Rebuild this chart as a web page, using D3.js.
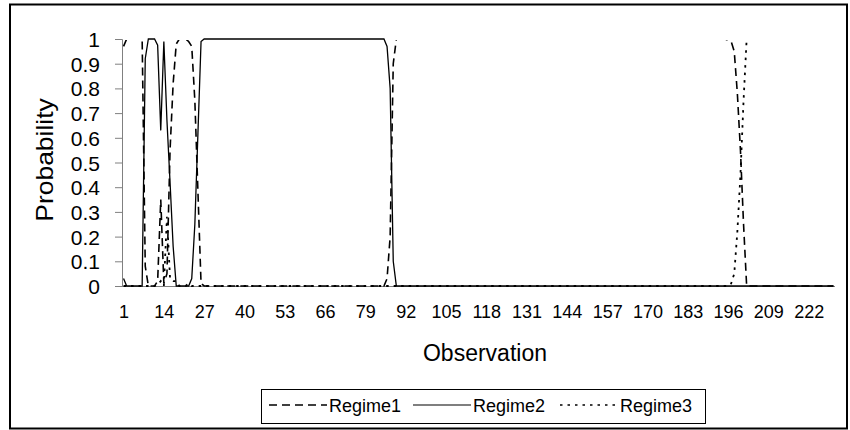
<!DOCTYPE html>
<html>
<head>
<meta charset="utf-8">
<script src="https://cdn.jsdelivr.net/npm/d3@7"></script>
<style>
  body { margin: 0; background: #fff; }
  svg text { font-family: Arial, "Liberation Sans", sans-serif; fill: #000; }
</style>
</head>
<body>
<div id="chart"></div>
<script>
// observations 1..230
var observations = d3.range(1, 231);

var seriesNames = ["Regime1", "Regime2", "Regime3"];

// smoothed probabilities (10 values per row)
var regime1 = [
  0.97, 1, 1, 1, 1, 1, 1, 0.08, 0, 0,
  0, 0.02, 0.35, 0.01, 0.05, 0.55, 0.82, 0.98, 1, 1,
  1, 0.99, 0.97, 0.75, 0.38, 0.01, 0, 0, 0, 0,
  0, 0, 0, 0, 0, 0, 0, 0, 0, 0,
  0, 0, 0, 0, 0, 0, 0, 0, 0, 0,
  0, 0, 0, 0, 0, 0, 0, 0, 0, 0,
  0, 0, 0, 0, 0, 0, 0, 0, 0, 0,
  0, 0, 0, 0, 0, 0, 0, 0, 0, 0,
  0, 0, 0, 0, 0, 0.03, 0.2, 0.9, 1, 1,
  1, 1, 1, 1, 1, 1, 1, 1, 1, 1,
  1, 1, 1, 1, 1, 1, 1, 1, 1, 1,
  1, 1, 1, 1, 1, 1, 1, 1, 1, 1,
  1, 1, 1, 1, 1, 1, 1, 1, 1, 1,
  1, 1, 1, 1, 1, 1, 1, 1, 1, 1,
  1, 1, 1, 1, 1, 1, 1, 1, 1, 1,
  1, 1, 1, 1, 1, 1, 1, 1, 1, 1,
  1, 1, 1, 1, 1, 1, 1, 1, 1, 1,
  1, 1, 1, 1, 1, 1, 1, 1, 1, 1,
  1, 1, 1, 1, 1, 1, 1, 1, 1, 1,
  1, 1, 1, 1, 1, 0.995, 0.99, 0.95, 0.78, 0.55,
  0.25, 0, 0, 0, 0, 0, 0, 0, 0, 0,
  0, 0, 0, 0, 0, 0, 0, 0, 0, 0,
  0, 0, 0, 0, 0, 0, 0, 0, 0, 0
];

var regime2 = [
  0.03, 0, 0, 0, 0, 0, 0, 0.92, 1, 1,
  1, 0.975, 0.63, 0.99, 0.67, 0.42, 0.16, 0, 0, 0,
  0, 0, 0.03, 0.25, 0.62, 0.99, 1, 1, 1, 1,
  1, 1, 1, 1, 1, 1, 1, 1, 1, 1,
  1, 1, 1, 1, 1, 1, 1, 1, 1, 1,
  1, 1, 1, 1, 1, 1, 1, 1, 1, 1,
  1, 1, 1, 1, 1, 1, 1, 1, 1, 1,
  1, 1, 1, 1, 1, 1, 1, 1, 1, 1,
  1, 1, 1, 1, 1, 0.97, 0.8, 0.1, 0, 0,
  0, 0, 0, 0, 0, 0, 0, 0, 0, 0,
  0, 0, 0, 0, 0, 0, 0, 0, 0, 0,
  0, 0, 0, 0, 0, 0, 0, 0, 0, 0,
  0, 0, 0, 0, 0, 0, 0, 0, 0, 0,
  0, 0, 0, 0, 0, 0, 0, 0, 0, 0,
  0, 0, 0, 0, 0, 0, 0, 0, 0, 0,
  0, 0, 0, 0, 0, 0, 0, 0, 0, 0,
  0, 0, 0, 0, 0, 0, 0, 0, 0, 0,
  0, 0, 0, 0, 0, 0, 0, 0, 0, 0,
  0, 0, 0, 0, 0, 0, 0, 0, 0, 0,
  0, 0, 0, 0, 0, 0, 0, 0, 0, 0,
  0, 0, 0, 0, 0, 0, 0, 0, 0, 0,
  0, 0, 0, 0, 0, 0, 0, 0, 0, 0,
  0, 0, 0, 0, 0, 0, 0, 0, 0, 0
];

var regime3 = [
  0, 0, 0, 0, 0, 0, 0, 0, 0, 0,
  0, 0.005, 0.02, 0, 0.28, 0.03, 0.02, 0.02, 0, 0,
  0, 0.01, 0, 0, 0, 0, 0, 0, 0, 0,
  0, 0, 0, 0, 0, 0, 0, 0, 0, 0,
  0, 0, 0, 0, 0, 0, 0, 0, 0, 0,
  0, 0, 0, 0, 0, 0, 0, 0, 0, 0,
  0, 0, 0, 0, 0, 0, 0, 0, 0, 0,
  0, 0, 0, 0, 0, 0, 0, 0, 0, 0,
  0, 0, 0, 0, 0, 0, 0, 0, 0, 0,
  0, 0, 0, 0, 0, 0, 0, 0, 0, 0,
  0, 0, 0, 0, 0, 0, 0, 0, 0, 0,
  0, 0, 0, 0, 0, 0, 0, 0, 0, 0,
  0, 0, 0, 0, 0, 0, 0, 0, 0, 0,
  0, 0, 0, 0, 0, 0, 0, 0, 0, 0,
  0, 0, 0, 0, 0, 0, 0, 0, 0, 0,
  0, 0, 0, 0, 0, 0, 0, 0, 0, 0,
  0, 0, 0, 0, 0, 0, 0, 0, 0, 0,
  0, 0, 0, 0, 0, 0, 0, 0, 0, 0,
  0, 0, 0, 0, 0, 0, 0, 0, 0, 0,
  0, 0, 0, 0, 0, 0, 0.01, 0.05, 0.22, 0.45,
  0.75, 1, 1, 1, 1, 1, 1, 1, 1, 1,
  1, 1, 1, 1, 1, 1, 1, 1, 1, 1,
  1, 1, 1, 1, 1, 1, 1, 1, 1, 1
];

var xTickLabels = [1, 14, 27, 40, 53, 66, 79, 92, 105, 118, 131, 144, 157, 170, 183, 196, 209, 222];
var yTicks = [0, 0.1, 0.2, 0.3, 0.4, 0.5, 0.6, 0.7, 0.8, 0.9, 1];

var W = 850, H = 430;
var plot = { left: 122, right: 835, top: 39, bottom: 286 };

var svg = d3.select("#chart")
    .append("svg")
    .attr("width", W)
    .attr("height", H);

// outer chart frame
svg.append("rect")
    .attr("x", 10).attr("y", 4.5)
    .attr("width", 837).attr("height", 424)
    .attr("fill", "#fff")
    .attr("stroke", "#000")
    .attr("stroke-width", 2);

var x = d3.scalePoint()
    .domain(observations)
    .range([plot.left, plot.right])
    .padding(0.5);

var y = d3.scaleLinear()
    .domain([0, 1])
    .range([plot.bottom, plot.top]);

// y axis
var yAxis = svg.append("g")
    .attr("transform", "translate(" + plot.left + ",0)")
    .call(d3.axisLeft(y).tickValues(yTicks).tickSize(7).tickPadding(15)
        .tickFormat(function(d) { return d3.format("")(+d.toFixed(1)); }));
yAxis.select(".domain").attr("stroke", "#808080");
yAxis.selectAll(".tick line").attr("stroke", "#808080");
yAxis.selectAll(".tick text")
    .style("font-size", "21px")
    .attr("dy", "0.36em");

// x axis: line only, labels every 13th observation
var xAxis = svg.append("g")
    .attr("transform", "translate(0," + plot.bottom + ")")
    .call(d3.axisBottom(x).tickValues(xTickLabels).tickSize(0).tickPadding(19));
xAxis.select(".domain")
    .attr("stroke", "#808080")
    .attr("d", "M" + plot.left + ",0.5H" + plot.right);
xAxis.selectAll(".tick text")
    .style("font-size", "18px")
    .attr("dy", "0.71em");

// axis titles
svg.append("text")
    .attr("x", 485).attr("y", 361)
    .attr("text-anchor", "middle")
    .style("font-size", "23px")
    .text("Observation");

svg.append("text")
    .attr("transform", "translate(53,160) rotate(-90) scale(1.15,1)")
    .attr("text-anchor", "middle")
    .style("font-size", "23px")
    .text("Probability");

// lines sitting exactly on 1 get cut off by the plot edge for Regime1/3
svg.append("clipPath")
    .attr("id", "clipTop")
    .append("rect")
    .attr("x", 0).attr("y", plot.top + 0.9)
    .attr("width", W).attr("height", H);

var styles = [
  { dash: "8,5", width: 1.6, clip: true },
  { dash: null, width: 1.3, clip: false },
  { dash: "2.5,5", width: 1.8, clip: true }
];

var seriesData = [regime1, regime2, regime3];

var line = d3.line()
    .x(function(d, i) { return x(observations[i]); })
    .y(function(d) { return y(d); });

seriesData.forEach(function(vals, k) {
    var p = svg.append("path")
        .datum(vals)
        .attr("fill", "none")
        .attr("stroke", "#000")
        .attr("stroke-width", styles[k].width)
        .attr("stroke-dasharray", styles[k].dash)
        .attr("d", line);
    if (styles[k].clip) p.attr("clip-path", "url(#clipTop)");
});

// legend
var legend = svg.append("g");
legend.append("rect")
    .attr("x", 261.5).attr("y", 389.5)
    .attr("width", 444).attr("height", 34)
    .attr("fill", "#fff")
    .attr("stroke", "#000")
    .attr("stroke-width", 1);

var legendX = [269, 413, 560];
var item = legend.selectAll(".item")
    .data(seriesNames)
    .enter().append("g")
    .attr("class", "item")
    .attr("transform", function(d, i) { return "translate(" + legendX[i] + ",0)"; });

item.append("line")
    .attr("x1", 0).attr("x2", 58)
    .attr("y1", 405).attr("y2", 405)
    .attr("stroke", "#000")
    .attr("stroke-width", function(d, i) { return i === 1 ? 1.2 : 1.6; })
    .attr("stroke-dasharray", function(d, i) { return styles[i].dash; });

item.append("text")
    .attr("x", 60).attr("y", 412)
    .style("font-size", "18px")
    .text(function(d) { return d; });
</script>
</body>
</html>
